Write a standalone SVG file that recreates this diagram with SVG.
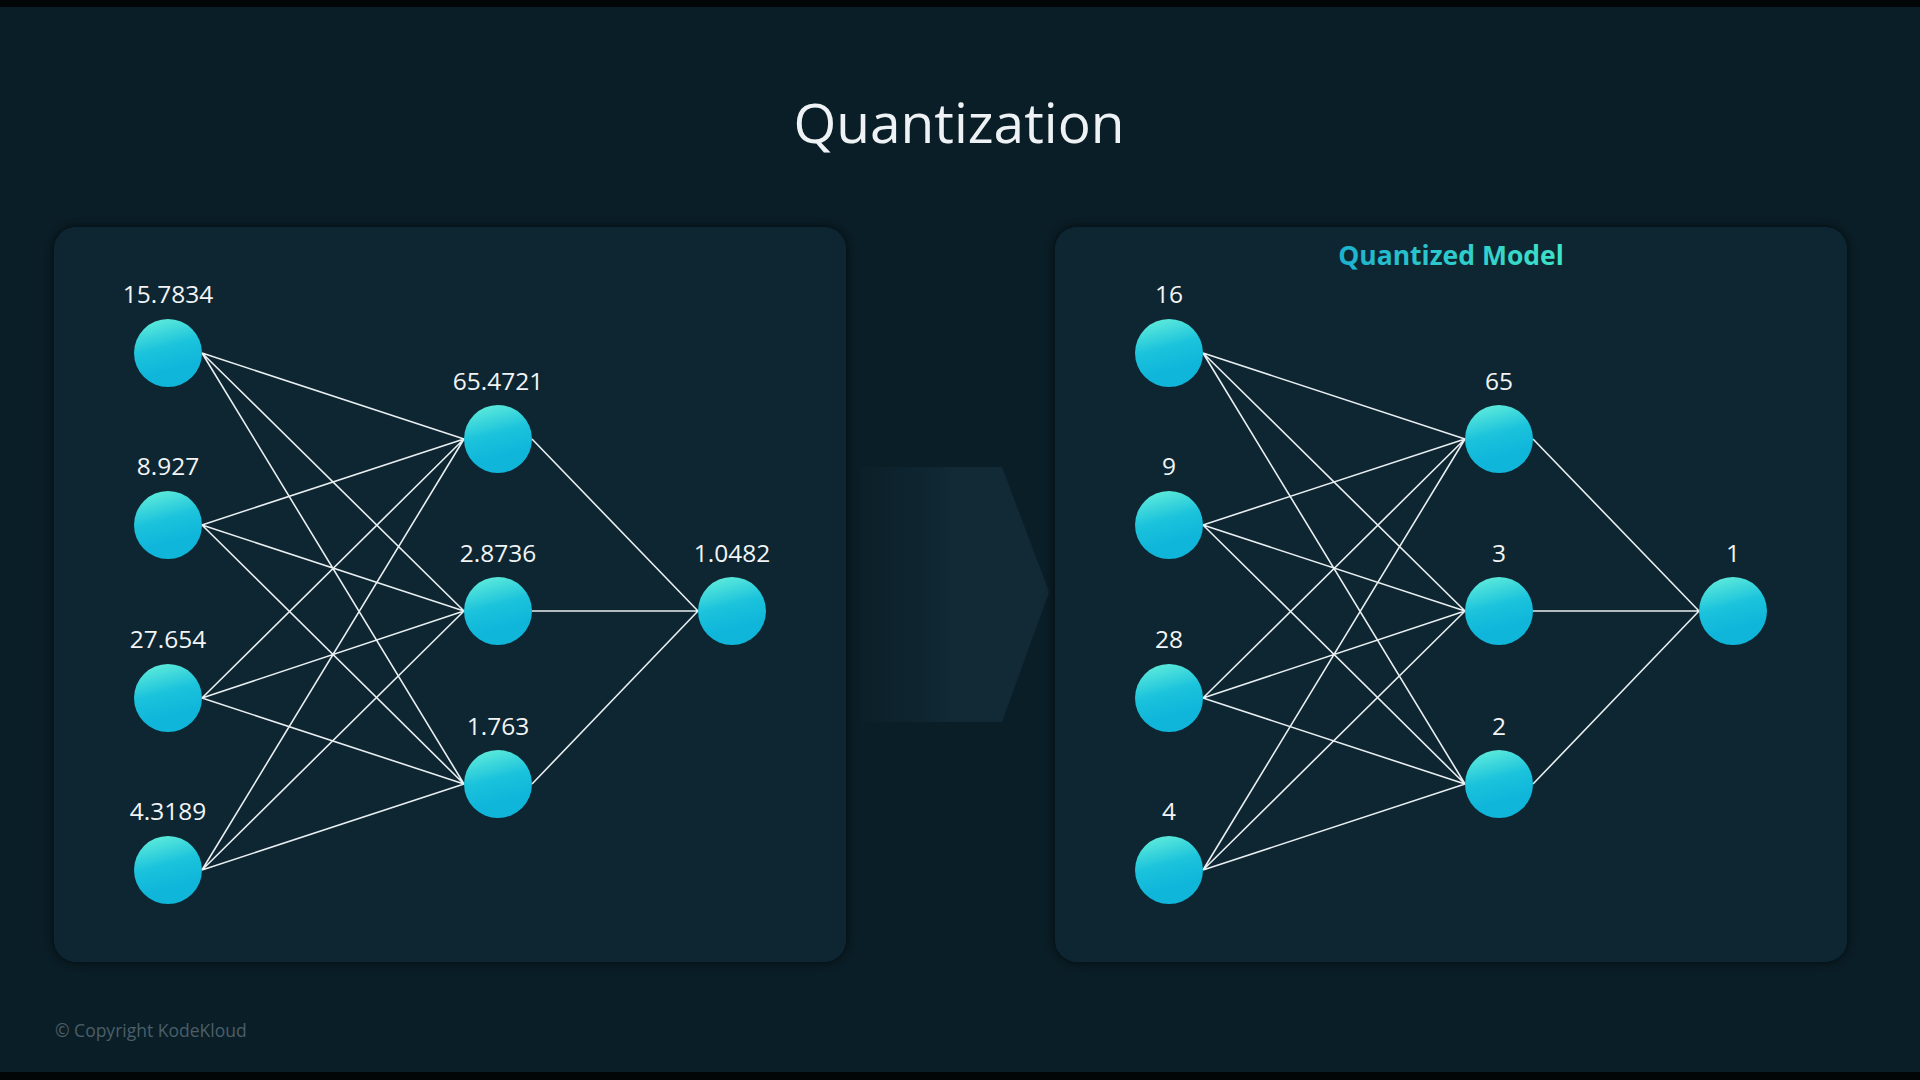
<svg xmlns="http://www.w3.org/2000/svg" width="1920" height="1080" viewBox="0 0 1920 1080">
<defs>
<linearGradient id="nodeGrad" x1="0.35" y1="0" x2="0.55" y2="0.75">
<stop offset="0" stop-color="#5ceadb"/>
<stop offset="0.55" stop-color="#1cc3dc"/>
<stop offset="1" stop-color="#0fb6da"/>
</linearGradient>
<linearGradient id="titleGrad" x1="0" y1="0" x2="1" y2="0">
<stop offset="0" stop-color="#1cb2d0"/>
<stop offset="1" stop-color="#3fe3c6"/>
</linearGradient>
<linearGradient id="arrowGrad" x1="0" y1="0" x2="1" y2="0">
<stop offset="0" stop-color="#0e2530" stop-opacity="0.2"/>
<stop offset="0.5" stop-color="#112a36"/>
<stop offset="1" stop-color="#132a36"/>
</linearGradient>
<filter id="shadow" x="-10%" y="-10%" width="120%" height="120%">
<feDropShadow dx="0" dy="0" stdDeviation="6" flood-color="#000000" flood-opacity="0.7"/>
</filter>
</defs>
<style>
.panel { fill: #0c2633; filter: url(#shadow); }
.node { fill: url(#nodeGrad); }
.lbl { font-family: "Open Sans", "Liberation Sans", sans-serif; font-size: 24.5px; fill: #f2f4f5; text-anchor: middle; }
.edge { stroke: #e9eef0; stroke-width: 1.6; fill: none; }
</style>
<rect x="0" y="0" width="1920" height="1080" fill="#0a1e27"/>
<rect x="0" y="0" width="1920" height="7" fill="#020607"/>
<rect x="0" y="1072" width="1920" height="8" fill="#020607"/>
<text x="959" y="143" font-family="Open Sans, Liberation Sans, sans-serif" font-weight="400" font-size="55" fill="#eef2f4" text-anchor="middle">Quantization</text>
<path id="arrow" d="M860 467 L1002 467 L1049 592 L1002 722 L860 722 Z" fill="url(#arrowGrad)"/>
<rect id="panel-left" class="panel" x="54" y="227" width="792" height="735" rx="22"/>
<rect id="panel-right" class="panel" x="1055" y="227" width="792" height="735" rx="22"/>
<text x="1451" y="265" font-family="Open Sans, Liberation Sans, sans-serif" font-weight="700" font-size="26.5" fill="url(#titleGrad)" text-anchor="middle">Quantized Model</text>
<g id="connectors">
<path class="edge" d="M202 353 L464 439 M202 353 L464 611 M202 353 L464 784 M202 525 L464 439 M202 525 L464 611 M202 525 L464 784 M202 698 L464 439 M202 698 L464 611 M202 698 L464 784 M202 870 L464 439 M202 870 L464 611 M202 870 L464 784 M532 439 L698 611 M532 611 L698 611 M532 784 L698 611"/>
<path class="edge" d="M1203 353 L1465 439 M1203 353 L1465 611 M1203 353 L1465 784 M1203 525 L1465 439 M1203 525 L1465 611 M1203 525 L1465 784 M1203 698 L1465 439 M1203 698 L1465 611 M1203 698 L1465 784 M1203 870 L1465 439 M1203 870 L1465 611 M1203 870 L1465 784 M1533 439 L1699 611 M1533 611 L1699 611 M1533 784 L1699 611"/>
</g>
<g id="L-in1"><circle class="node" cx="168" cy="353" r="34"/><text class="lbl" x="168" y="303">15.7834</text></g>
<g id="L-in2"><circle class="node" cx="168" cy="525" r="34"/><text class="lbl" x="168" y="475">8.927</text></g>
<g id="L-in3"><circle class="node" cx="168" cy="698" r="34"/><text class="lbl" x="168" y="648">27.654</text></g>
<g id="L-in4"><circle class="node" cx="168" cy="870" r="34"/><text class="lbl" x="168" y="820">4.3189</text></g>
<g id="L-h1"><circle class="node" cx="498" cy="439" r="34"/><text class="lbl" x="498" y="390">65.4721</text></g>
<g id="L-h2"><circle class="node" cx="498" cy="611" r="34"/><text class="lbl" x="498" y="562">2.8736</text></g>
<g id="L-h3"><circle class="node" cx="498" cy="784" r="34"/><text class="lbl" x="498" y="735">1.763</text></g>
<g id="L-out"><circle class="node" cx="732" cy="611" r="34"/><text class="lbl" x="732" y="562">1.0482</text></g>
<g id="R-in1"><circle class="node" cx="1169" cy="353" r="34"/><text class="lbl" x="1169" y="303">16</text></g>
<g id="R-in2"><circle class="node" cx="1169" cy="525" r="34"/><text class="lbl" x="1169" y="475">9</text></g>
<g id="R-in3"><circle class="node" cx="1169" cy="698" r="34"/><text class="lbl" x="1169" y="648">28</text></g>
<g id="R-in4"><circle class="node" cx="1169" cy="870" r="34"/><text class="lbl" x="1169" y="820">4</text></g>
<g id="R-h1"><circle class="node" cx="1499" cy="439" r="34"/><text class="lbl" x="1499" y="390">65</text></g>
<g id="R-h2"><circle class="node" cx="1499" cy="611" r="34"/><text class="lbl" x="1499" y="562">3</text></g>
<g id="R-h3"><circle class="node" cx="1499" cy="784" r="34"/><text class="lbl" x="1499" y="735">2</text></g>
<g id="R-out"><circle class="node" cx="1733" cy="611" r="34"/><text class="lbl" x="1733" y="562">1</text></g>
<text x="55" y="1037" font-family="Open Sans, Liberation Sans, sans-serif" font-size="17.5" fill="#4a5f68">© Copyright KodeKloud</text>
</svg>
